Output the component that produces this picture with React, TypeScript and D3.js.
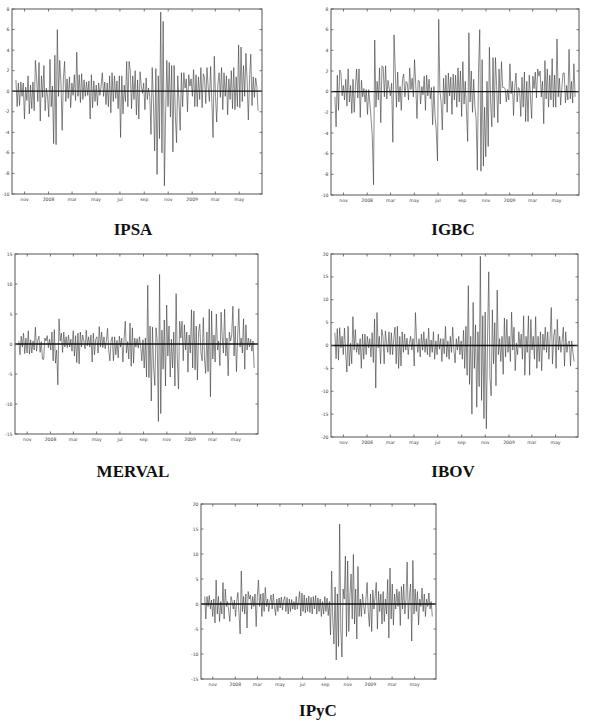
import * as d3 from "d3";

// daily returns (%), ~10 points per month, Oct 2007 - Jun 2009
const ipsa = [
  1.1, -1.5, 0.8, -1.4, 0.9, -0.5, 0.8, -2.7, 0.4, -0.9,
  1.5, -2.2, 0.6, -1.7, 0.9, -1.9, 3.0, 1.3, -1.0, 2.8,
  -2.9, 1.5, -0.6, 2.5, -1.9, 0.3, -0.5, -2.5, 3.1, -1.5,
  0.5, -5.1, 3.5, -5.2, 6.0, -0.5, 3.0, 0.8, -3.8, 1.2,
  2.9, -1.0, 1.2, -0.7, 1.4, -1.6, 0.8, -0.4, 1.6, -0.9,
  3.8, -0.5, 1.6, -1.1, 1.7, -0.8, 1.1, -0.5, 0.9, -0.4,
  1.0, -2.7, 1.6, -1.6, 1.0, -1.0, 0.6, -1.4, 0.8, -0.4,
  0.5, 1.8, -0.5, 0.9, -1.3, 0.8, -1.5, 1.5, -2.1, 1.8,
  -1.0, 1.5, -0.7, 1.0, -1.7, 1.5, -4.5, 1.5, -2.2, 0.6,
  -1.0, 2.9, -1.5, 2.9, 2.0, -1.7, 1.5, -0.8, 2.0, -2.3,
  1.1, -2.7, 1.9, 0.5, -0.2, 0.8, -1.8, 1.3, -0.8, 0.3,
  -0.5, -4.2, 2.3, -1.0, -5.8, 2.2, -8.1, 1.5, -4.6, 7.7,
  -6.0, 6.8, -9.2, -2.2, 3.0, -1.5, 2.8, -2.5, 2.5, -5.9,
  2.5, -2.4, -5.0, 1.5, -1.0, -3.8, 1.8, -1.5, 1.8, 0.3,
  1.2, -2.0, 1.6, 0.5, 1.2, -0.5, 2.1, -1.5, 1.6, -1.5,
  1.4, -0.8, 2.3, -1.6, 1.7, 1.3, -1.2, 2.3, 0.4, -1.0,
  2.4, -1.0, -4.5, 3.4, -0.5, -3.0, 0.7, 1.8, -0.6, 2.3,
  -1.8, 1.8, -0.5, 1.5, -2.3, 1.2, -0.8, 2.0, -1.7, 2.3,
  -1.8, 1.4, -1.5, 4.5, -1.6, 4.3, -1.0, 2.5, -0.5, 3.7,
  1.0, -2.8, 1.2, 3.6, -1.4, 1.4, -0.6, 1.3, 0.5, -1.9,
];

const igbc = [
  -0.5, -3.4, 1.6, -1.8, 2.1, 1.8, -0.4, 0.6, -0.8, 1.2,
  -1.4, 2.2, -1.0, 0.6, -2.1, 1.2, -2.0, 0.5, 2.2, -0.6,
  2.2, -2.5, 1.1, -0.5, 0.3, -1.0, 0.2, -2.2, 0.2, -1.1,
  -2.6, -4.4, -9.0, 5.0, -1.5, 1.0, -0.8, 2.3, -3.0, 2.5,
  2.4, -0.5, 2.5, -0.7, 1.1, 0.3, -0.4, 0.8, -4.9, 5.5,
  2.1, -1.5, 1.9, -1.0, 0.5, -1.8, 1.2, 1.7, -0.5, 1.0,
  0.8, -0.8, 2.3, 0.2, 1.3, -0.5, 3.1, 0.6, -2.6, 1.1,
  1.0, -1.2, 0.5, -0.3, 1.5, -1.8, 1.6, -0.4, 1.2, -0.7,
  0.4, -3.2, 0.5, -2.4, -3.8, -6.7, 7.0, 0.1, -1.0, -3.7,
  1.3, -1.2, 1.6, -2.0, 1.8, -0.4, 1.4, -2.2, 1.7, -0.8,
  1.6, -1.5, 2.3, -1.0, 2.0, -2.4, 2.9, -1.2, 1.0, -1.8,
  -4.8, 5.7, -1.0, 2.0, -2.0, 1.2, -1.5, -2.6, -7.6, 2.0,
  6.0, -7.7, 3.1, -7.2, -1.5, -6.3, 1.0, -5.3, 4.3, -1.0,
  -3.4, 3.3, -2.5, 3.3, 0.5, -3.0, 2.2, -1.2, 2.9, 0.4,
  0.4, 0.3, -1.0, 0.2, -0.8, 2.7, -0.2, 1.0, -2.3, 0.5,
  1.8, -1.0, 0.4, 0.2, -2.4, 1.4, -1.5, 1.9, -2.9, 1.0,
  -2.9, 1.6, -0.5, -2.6, 1.5, 0.3, 1.9, -0.6, 2.2, 1.5,
  2.0, -0.5, 1.0, -3.1, 3.0, -0.7, 2.2, -1.5, 1.6, -0.8,
  3.2, -1.5, 1.6, -1.5, 5.1, -0.5, 1.3, -1.3, 0.4, 1.8,
  1.8, -1.1, 0.6, -0.8, 4.1, -0.7, 1.0, -1.1, 2.7, -0.5,
];

const merval = [
  0.5, -1.8, 1.3, -0.5, 1.8, -1.6, 1.0, -1.5, 2.2, -1.7,
  0.7, -1.5, 0.5, -1.0, 2.8, -1.2, 0.6, 1.3, -1.4, 0.4,
  -2.5, -2.6, 1.0, 0.5, 1.4, -0.6, 0.8, -1.0, 2.0, -2.8,
  2.4, -3.2, -1.0, -6.8, 4.2, 0.5, 1.8, -1.4, 2.0, -0.5,
  1.2, -0.6, 1.5, -0.5, 0.8, -1.2, 2.2, -2.0, 1.4, -3.1,
  1.8, -3.3, 2.0, -0.5, 1.5, 0.5, -0.8, 2.3, -0.3, 1.2,
  -0.5, 1.5, -3.0, 1.8, -1.8, 0.8, 1.2, -1.5, 2.9, -0.5,
  2.0, -0.6, 1.2, -0.8, 0.4, 2.6, -1.0, -2.8, 0.5, 1.2,
  -2.8, 1.2, -1.8, 0.6, -2.3, 1.3, -0.5, 1.0, -3.0, 0.8,
  3.8, -1.5, 0.4, -2.5, 3.5, -3.7, 2.7, -3.2, 1.0, -0.5,
  0.9, -0.7, 1.2, -0.3, -2.8, 0.7, -4.0, 1.0, -5.5, 9.8,
  -5.6, 3.0, -9.5, 2.8, -4.0, -6.9, 2.7, 0.5, -12.9, 11.6,
  -11.6, 2.3, -4.2, 4.0, -7.0, 6.5, -2.0, 3.0, -5.5, 0.8,
  -4.0, 2.0, -7.0, 8.4, -2.5, -7.5, 3.8, 1.0, 3.8, -2.8,
  3.2, -1.0, 2.0, -4.7, 1.5, -1.5, 5.7, -4.0, 5.5, -4.3,
  3.0, -6.0, 2.0, 3.3, -1.5, -2.8, 4.4, -2.5, -4.9, 2.0,
  -4.6, 5.8, -8.8, 5.5, -2.5, 1.5, -3.0, 5.0, -1.0, 0.5,
  -3.6, 5.3, 1.0, -1.5, 5.8, -2.0, 1.0, -5.3, 2.0, 0.5,
  1.5, 6.3, -2.0, 3.0, -4.6, 1.0, 5.9, -0.5, 1.0, -1.5,
  4.2, -4.2, 3.2, -1.0, 1.0, -0.5, 0.8, -1.2, 0.5, -4.0,
];

const ibov = [
  2.8, -2.9, 3.7, -3.2, 3.9, -0.5, 2.0, -2.0, 3.8, -1.8,
  -5.8, 4.2, -4.5, 0.5, -4.0, 6.3, -1.0, 3.5, -1.5, 0.5,
  -2.0, 1.5, -5.0, 2.5, -3.0, 2.5, -2.0, 2.0, -0.5, 1.5,
  -2.5, 2.8, -3.7, 5.8, -9.3, 7.2, -0.5, 2.0, -4.0, 3.5,
  2.0, -4.0, 3.2, 0.5, -1.5, 3.0, -2.0, 2.8, -2.0, 1.5,
  4.0, -4.0, 4.2, -5.0, 2.0, -4.5, 3.0, -1.5, 2.5, -1.0,
  1.6, -2.0, 0.5, 2.0, -1.0, 1.5, -4.5, 7.2, 1.0, -1.5,
  1.5, -2.5, 2.5, -1.0, 3.0, -1.5, 1.5, -2.0, 3.8, -2.5,
  1.2, -1.5, 3.0, -3.0, 1.0, -2.0, 2.5, -0.8, 1.5, -3.5,
  1.5, -1.8, 4.2, -2.5, 1.0, -3.0, 2.0, -1.5, 4.0, -1.0,
  -3.8, 1.5, -1.0, 2.0, -2.0, 1.0, -3.0, 3.3, -5.0, 4.2,
  -6.5, 13.1, -8.5, 2.0, -15.0, 9.4, -5.0, 4.5, -13.5, 3.0,
  -9.0, 19.5, -12.0, 6.5, -16.0, 7.3, -18.2, 2.0, 16.1, -7.0,
  -11.0, 7.8, -4.0, 5.0, -8.8, 12.1, -2.0, 1.5, -3.5, 2.0,
  -6.3, 6.0, -2.5, 5.7, -1.5, 2.0, -3.5, 7.3, -1.0, 4.0,
  -5.5, 0.5, -2.0, 3.0, -0.5, 2.5, -3.0, 6.5, -6.5, 2.0,
  -1.5, 6.5, -6.5, 5.7, -1.0, 2.0, -3.0, 6.3, -5.0, 2.0,
  -3.5, 3.0, -5.5, 2.5, -1.0, 4.0, -1.5, 3.0, -3.0, 1.5,
  8.3, -4.0, 2.0, 3.5, -5.0, 5.7, -1.0, 2.0, -1.5, 1.0,
  4.0, -4.5, 3.0, -1.5, 0.5, 1.0, -4.5, 1.0, -1.5, -3.5,
];

const ipyc = [
  1.5, -3.0, 1.5, -0.5, 1.7, -1.0, 0.8, -2.5, 1.0, -3.8,
  4.8, -2.0, 1.5, -3.5, 0.5, -2.0, 4.3, -3.0, 3.0, -0.5,
  0.5, -1.5, -3.5, 1.5, 0.5, -1.0, 0.8, -2.5, 0.5, 2.3,
  -2.0, -6.0, 6.6, -1.5, 1.5, -2.0, 2.0, -4.8, 2.5, 1.0,
  1.8, -1.0, 1.5, -0.5, 2.0, -4.5, 1.5, 4.8, -0.5, 2.0,
  -2.5, 2.2, -1.5, 3.3, -0.5, 1.0, -1.5, 0.5, 1.8, -1.0,
  2.0, -0.5, -2.3, 1.0, -1.5, 1.2, -0.8, 1.4, -1.2, 0.8,
  1.5, -1.5, 1.3, -2.0, 1.0, -1.5, 0.9, -1.0, 0.5, -1.2,
  1.5, -1.0, 0.5, 2.5, -2.4, 2.2, -1.5, 1.8, -1.8, 1.2,
  -1.5, 1.6, -1.7, 1.3, -2.0, 1.5, -1.0, 1.7, -2.0, 1.2,
  -1.5, 1.0, -2.5, 0.5, -2.0, 1.5, -1.5, 1.2, -2.3, 0.5,
  -6.2, 6.6, -3.0, -8.0, 3.4, -11.2, 2.0, -8.5, 16.0, -5.0,
  -10.6, 3.0, 1.0, 9.6, -6.5, 8.6, -5.5, 2.0, 6.0, -3.0,
  9.9, -4.0, 3.0, -7.0, 7.5, -2.5, 1.0, -2.5, 2.0, -0.5,
  -2.0, 1.0, 4.3, -1.5, -4.5, 2.0, -5.5, 2.8, -1.0, 1.5,
  4.3, -5.0, 2.5, -1.5, 2.0, -4.0, 2.5, -3.5, 1.0, -2.0,
  4.9, -6.8, 7.2, -3.0, 4.0, -4.2, 2.0, -1.0, 3.0, -0.5,
  2.5, -4.3, 3.5, -1.0, 4.0, -2.0, 1.0, 8.4, -3.0, 1.5,
  4.0, -7.4, 8.7, -2.0, 3.0, -1.5, 2.5, -4.2, 1.0, -0.5,
  3.2, -1.5, 2.0, -2.5, 1.0, -0.5, 2.2, -1.0, 0.5, -2.5,
];

const firstDay = new Date(2007, 9, 10);
const lastDay = new Date(2009, 5, 18);
const axisStart = new Date(2007, 8, 30);
const axisEnd = new Date(2009, 5, 28);

const panels = [
  { name: "IPSA", values: ipsa, left: 12, right: 262, top: 9, bottom: 194, yMin: -10, yMax: 8, step: 2, tx: 133, ty: 235 },
  { name: "IGBC", values: igbc, left: 331, right: 579, top: 9, bottom: 195, yMin: -10, yMax: 8, step: 2, tx: 453, ty: 235 },
  { name: "MERVAL", values: merval, left: 15, right: 258, top: 254, bottom: 434, yMin: -15, yMax: 15, step: 5, tx: 133, ty: 477 },
  { name: "IBOV", values: ibov, left: 331, right: 578, top: 254, bottom: 437, yMin: -20, yMax: 20, step: 5, tx: 453, ty: 477 },
  { name: "IPyC", values: ipyc, left: 201, right: 436, top: 504, bottom: 679, yMin: -15, yMax: 20, step: 5, tx: 318, ty: 716 },
];

const monthFmt = d3.timeFormat("%b");
const tickLabel = (d: Date) => (d.getMonth() === 0 ? String(d.getFullYear()) : monthFmt(d).toLowerCase());

function Panel({ p }: { p: (typeof panels)[number] }) {
  const x = d3.scaleTime().domain([axisStart, axisEnd]).range([p.left, p.right]);
  const y = d3.scaleLinear().domain([p.yMin, p.yMax]).range([p.bottom, p.top]);
  const n = p.values.length;
  const span = +lastDay - +firstDay;
  const dateAt = (i: number) => new Date(+firstDay + (span * i) / (n - 1));
  const line = d3.line<number>().x((_, i) => x(dateAt(i))).y((v) => y(v));
  const xTicks = d3.timeMonth.every(2)!.range(new Date(2007, 10, 1), axisEnd);
  const yTicks = d3.range(p.yMin, p.yMax + 0.001, p.step);
  const tl = 2.5;
  return (
    <g>
      <path d={line(p.values) ?? ""} fill="none" stroke="#3a3a3a" strokeWidth={0.6} />
      <line x1={p.left} x2={p.right} y1={y(0)} y2={y(0)} stroke="#111" strokeWidth={1.3} />
      <rect x={p.left} y={p.top} width={p.right - p.left} height={p.bottom - p.top} fill="none" stroke="#555" strokeWidth={1} />
      <g stroke="#555" strokeWidth={0.8}>
        {xTicks.map((d, i) => (
          <g key={i}>
            <line x1={x(d)} x2={x(d)} y1={p.bottom} y2={p.bottom - tl} />
            <line x1={x(d)} x2={x(d)} y1={p.top} y2={p.top + tl} />
          </g>
        ))}
        {yTicks.map((v, i) => (
          <g key={i}>
            <line x1={p.left} x2={p.left + tl} y1={y(v)} y2={y(v)} />
            <line x1={p.right} x2={p.right - tl} y1={y(v)} y2={y(v)} />
          </g>
        ))}
      </g>
      <g fontFamily="DejaVu Sans, sans-serif" fontSize={4.6} fill="#444">
        {xTicks.map((d, i) => (
          <text key={i} x={x(d)} y={p.bottom + 7} textAnchor="middle">
            {tickLabel(d)}
          </text>
        ))}
        {yTicks.map((v, i) => (
          <text key={i} x={p.left - 2.5} y={y(v) + 1.6} textAnchor="end">
            {v}
          </text>
        ))}
      </g>
      <text x={p.tx} y={p.ty} textAnchor="middle" fontFamily="Liberation Serif, serif" fontWeight="bold" fontSize={17} fill="#111">
        {p.name}
      </text>
    </g>
  );
}

export default function App() {
  return (
    <svg width={589} height={722} style={{ position: "absolute", left: 0, top: 0, background: "#fff" }}>
      <rect width={589} height={722} fill="#fff" />
      {panels.map((p) => (
        <Panel key={p.name} p={p} />
      ))}
    </svg>
  );
}
